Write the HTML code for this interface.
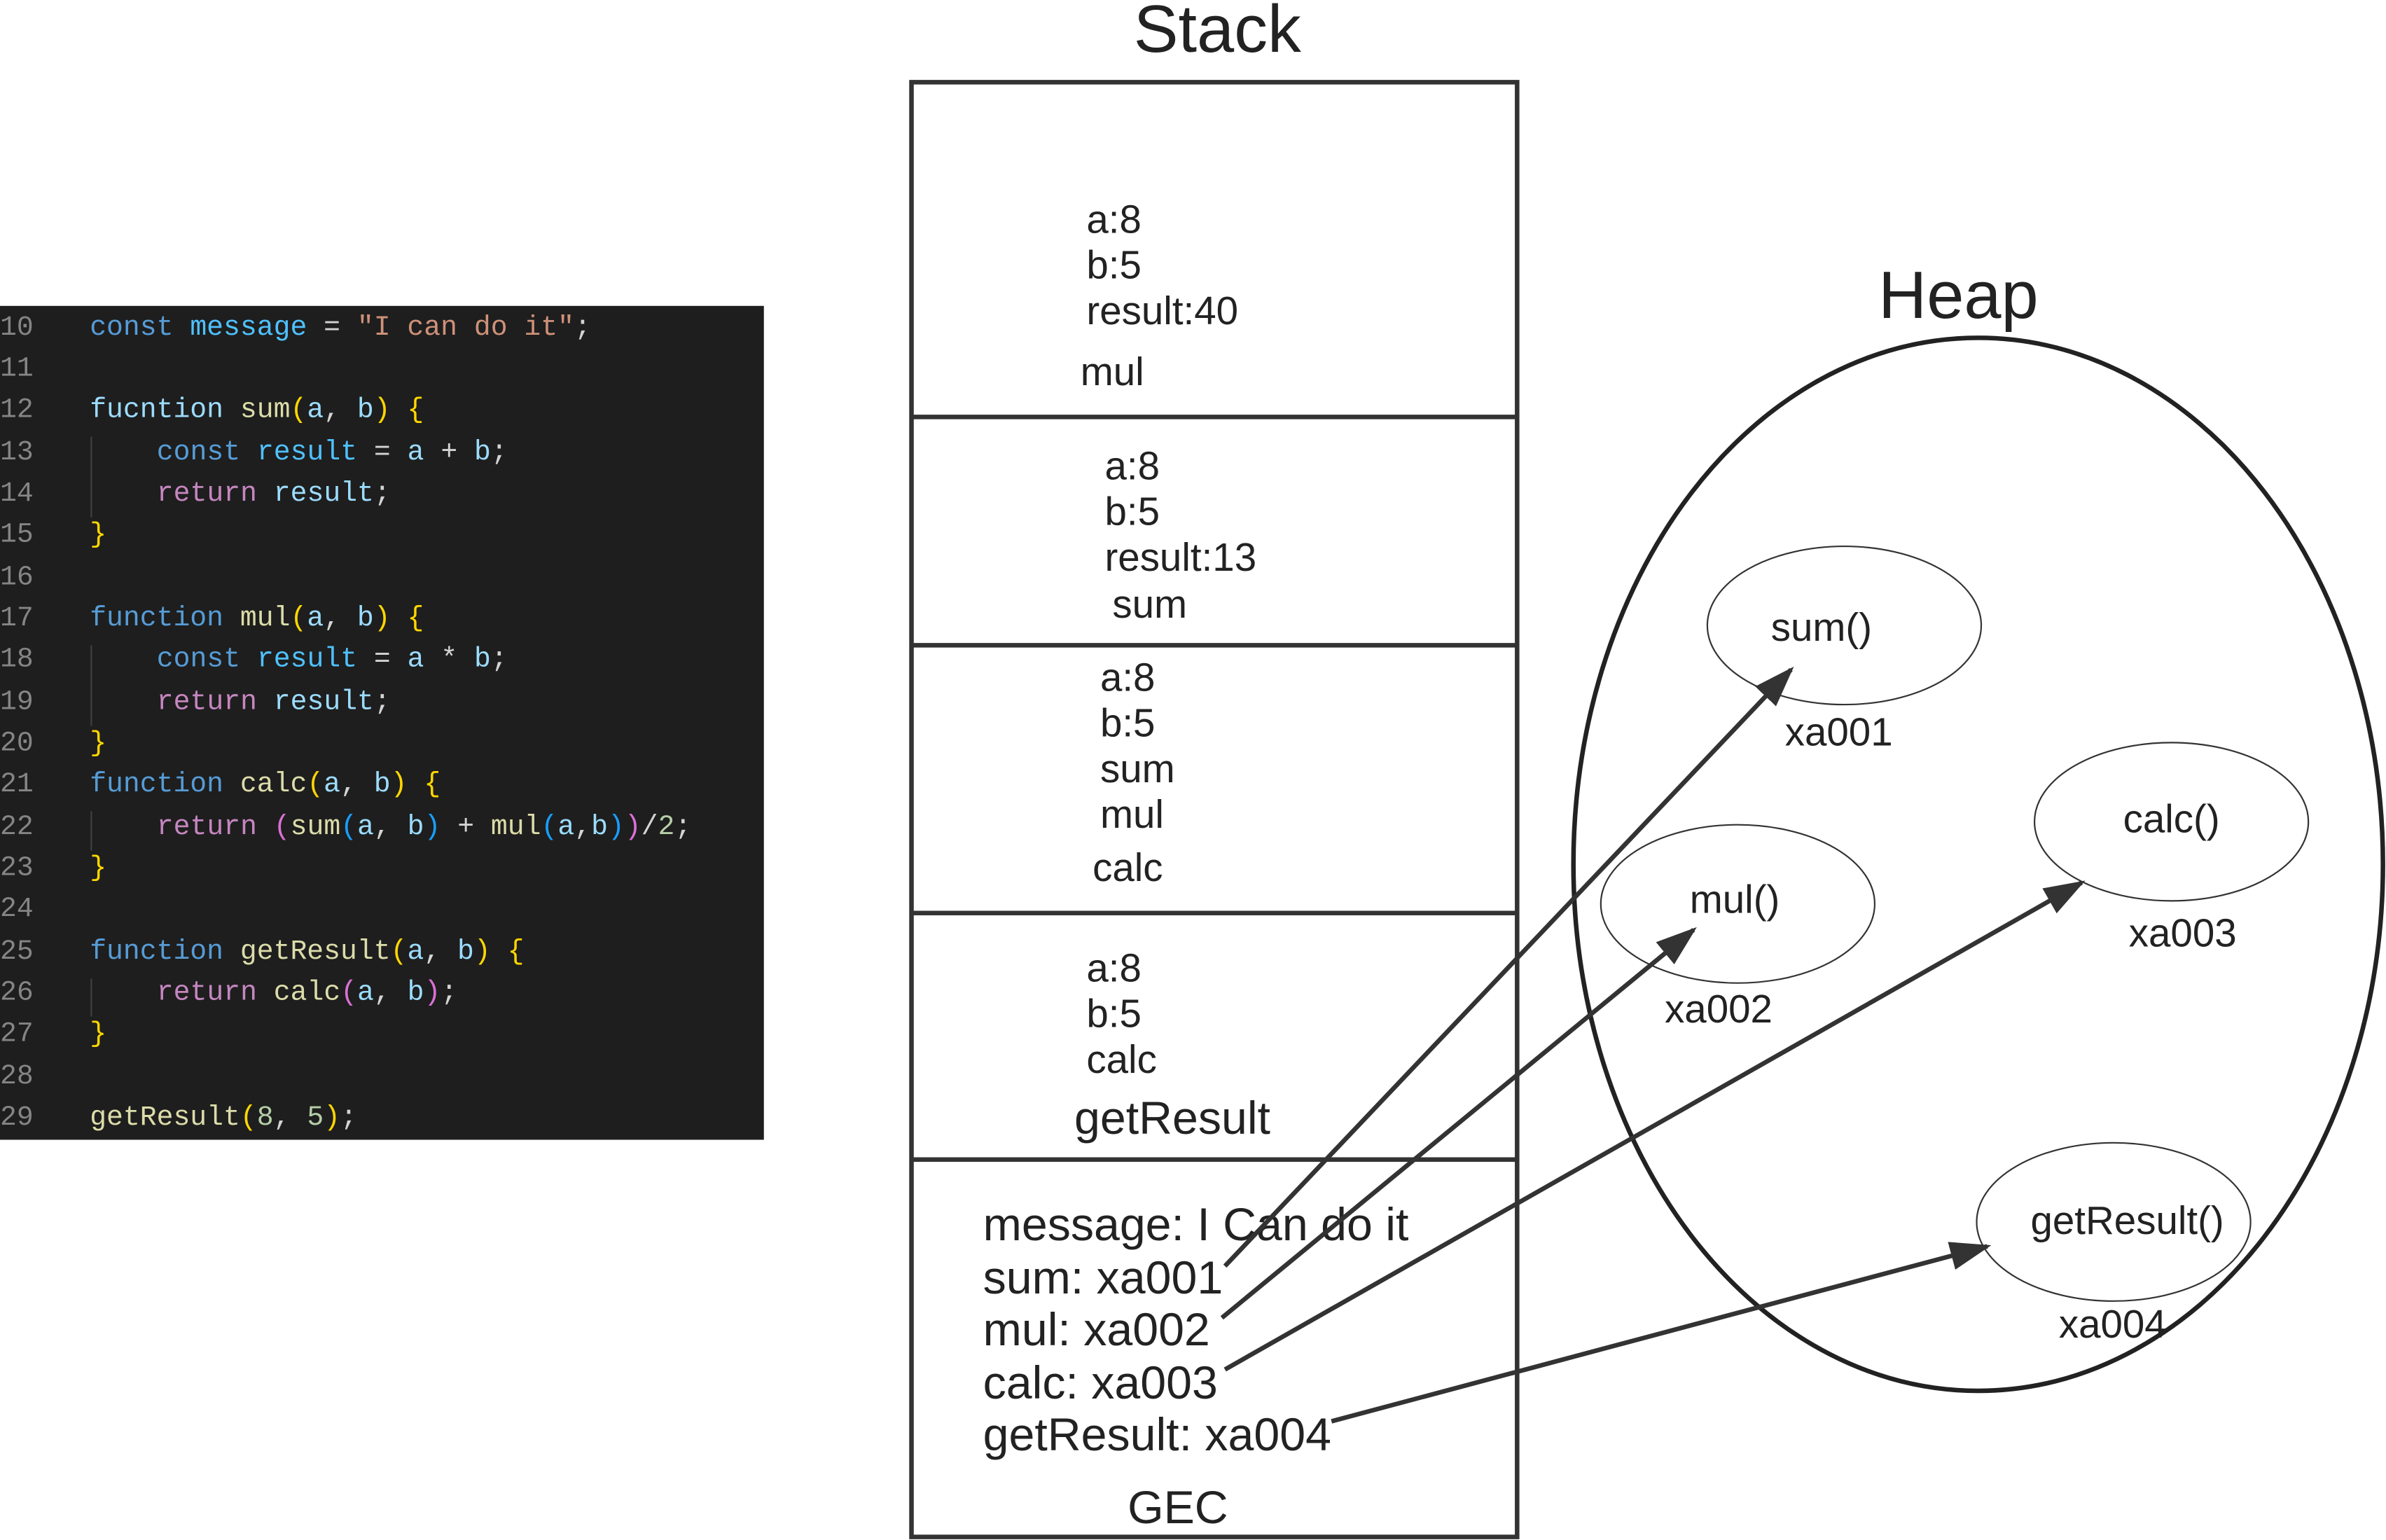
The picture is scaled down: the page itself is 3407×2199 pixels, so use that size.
<!DOCTYPE html>
<html><head><meta charset="utf-8"><style>
html,body{margin:0;padding:0;background:#fff;}
svg{display:block;}
.t{font-family:"Liberation Sans",sans-serif;fill:#222;}
.c{font-family:"Liberation Mono",monospace;font-size:18.3px;white-space:pre;}
</style></head><body>
<svg width="3407" height="2199" viewBox="0 0 1568 1012" xmlns="http://www.w3.org/2000/svg">
<defs>
<marker id="a" viewBox="0 0 10 10" refX="9" refY="5" markerWidth="9" markerHeight="9" orient="auto" markerUnits="strokeWidth"><path d="M0,1.5 L10,5 L0,8.5 z" fill="#333"/></marker></defs>
<rect x="0" y="201" width="502" height="548" fill="#1e1e1e"/>
<g class="c" xml:space="preserve">
<text x="0" y="220" fill="#858585">10</text>
<text x="0" y="247" fill="#858585">11</text>
<text x="0" y="274" fill="#858585">12</text>
<text x="0" y="302" fill="#858585">13</text>
<text x="0" y="329" fill="#858585">14</text>
<text x="0" y="356" fill="#858585">15</text>
<text x="0" y="384" fill="#858585">16</text>
<text x="0" y="411" fill="#858585">17</text>
<text x="0" y="438" fill="#858585">18</text>
<text x="0" y="466" fill="#858585">19</text>
<text x="0" y="493" fill="#858585">20</text>
<text x="0" y="520" fill="#858585">21</text>
<text x="0" y="548" fill="#858585">22</text>
<text x="0" y="575" fill="#858585">23</text>
<text x="0" y="602" fill="#858585">24</text>
<text x="0" y="630" fill="#858585">25</text>
<text x="0" y="657" fill="#858585">26</text>
<text x="0" y="684" fill="#858585">27</text>
<text x="0" y="712" fill="#858585">28</text>
<text x="0" y="739" fill="#858585">29</text>
<text x="59" y="220"><tspan fill="#569cd6">const</tspan> <tspan fill="#4fc1ff">message</tspan><tspan fill="#d4d4d4"> = </tspan><tspan fill="#ce9178">"I can do it"</tspan><tspan fill="#d4d4d4">;</tspan></text>
<text x="59" y="274"><tspan fill="#9cdcfe">fucntion</tspan> <tspan fill="#dcdcaa">sum</tspan><tspan fill="#ffd700">(</tspan><tspan fill="#9cdcfe">a</tspan><tspan fill="#d4d4d4">, </tspan><tspan fill="#9cdcfe">b</tspan><tspan fill="#ffd700">)</tspan> <tspan fill="#ffd700">{</tspan></text>
<text x="103" y="302"><tspan fill="#569cd6">const</tspan> <tspan fill="#4fc1ff">result</tspan><tspan fill="#d4d4d4"> = </tspan><tspan fill="#9cdcfe">a</tspan><tspan fill="#d4d4d4"> + </tspan><tspan fill="#9cdcfe">b</tspan><tspan fill="#d4d4d4">;</tspan></text>
<text x="103" y="329"><tspan fill="#c586c0">return</tspan> <tspan fill="#9cdcfe">result</tspan><tspan fill="#d4d4d4">;</tspan></text>
<text x="59" y="356" fill="#ffd700">}</text>
<text x="59" y="411"><tspan fill="#569cd6">function</tspan> <tspan fill="#dcdcaa">mul</tspan><tspan fill="#ffd700">(</tspan><tspan fill="#9cdcfe">a</tspan><tspan fill="#d4d4d4">, </tspan><tspan fill="#9cdcfe">b</tspan><tspan fill="#ffd700">)</tspan> <tspan fill="#ffd700">{</tspan></text>
<text x="103" y="438"><tspan fill="#569cd6">const</tspan> <tspan fill="#4fc1ff">result</tspan><tspan fill="#d4d4d4"> = </tspan><tspan fill="#9cdcfe">a</tspan><tspan fill="#d4d4d4"> * </tspan><tspan fill="#9cdcfe">b</tspan><tspan fill="#d4d4d4">;</tspan></text>
<text x="103" y="466"><tspan fill="#c586c0">return</tspan> <tspan fill="#9cdcfe">result</tspan><tspan fill="#d4d4d4">;</tspan></text>
<text x="59" y="493" fill="#ffd700">}</text>
<text x="59" y="520"><tspan fill="#569cd6">function</tspan> <tspan fill="#dcdcaa">calc</tspan><tspan fill="#ffd700">(</tspan><tspan fill="#9cdcfe">a</tspan><tspan fill="#d4d4d4">, </tspan><tspan fill="#9cdcfe">b</tspan><tspan fill="#ffd700">)</tspan> <tspan fill="#ffd700">{</tspan></text>
<text x="103" y="548"><tspan fill="#c586c0">return</tspan> <tspan fill="#da70d6">(</tspan><tspan fill="#dcdcaa">sum</tspan><tspan fill="#179fff">(</tspan><tspan fill="#9cdcfe">a</tspan><tspan fill="#d4d4d4">, </tspan><tspan fill="#9cdcfe">b</tspan><tspan fill="#179fff">)</tspan><tspan fill="#d4d4d4"> + </tspan><tspan fill="#dcdcaa">mul</tspan><tspan fill="#179fff">(</tspan><tspan fill="#9cdcfe">a</tspan><tspan fill="#d4d4d4">,</tspan><tspan fill="#9cdcfe">b</tspan><tspan fill="#179fff">)</tspan><tspan fill="#da70d6">)</tspan><tspan fill="#d4d4d4">/</tspan><tspan fill="#b5cea8">2</tspan><tspan fill="#d4d4d4">;</tspan></text>
<text x="59" y="575" fill="#ffd700">}</text>
<text x="59" y="630"><tspan fill="#569cd6">function</tspan> <tspan fill="#dcdcaa">getResult</tspan><tspan fill="#ffd700">(</tspan><tspan fill="#9cdcfe">a</tspan><tspan fill="#d4d4d4">, </tspan><tspan fill="#9cdcfe">b</tspan><tspan fill="#ffd700">)</tspan> <tspan fill="#ffd700">{</tspan></text>
<text x="103" y="657"><tspan fill="#c586c0">return</tspan> <tspan fill="#dcdcaa">calc</tspan><tspan fill="#da70d6">(</tspan><tspan fill="#9cdcfe">a</tspan><tspan fill="#d4d4d4">, </tspan><tspan fill="#9cdcfe">b</tspan><tspan fill="#da70d6">)</tspan><tspan fill="#d4d4d4">;</tspan></text>
<text x="59" y="684" fill="#ffd700">}</text>
<text x="59" y="739"><tspan fill="#dcdcaa">getResult</tspan><tspan fill="#ffd700">(</tspan><tspan fill="#b5cea8">8</tspan><tspan fill="#d4d4d4">, </tspan><tspan fill="#b5cea8">5</tspan><tspan fill="#ffd700">)</tspan><tspan fill="#d4d4d4">;</tspan></text>
</g>
<g stroke="#404040" stroke-width="1">
<line x1="60" y1="287" x2="60" y2="340"/><line x1="60" y1="424" x2="60" y2="477"/><line x1="60" y1="533" x2="60" y2="559"/><line x1="60" y1="643" x2="60" y2="668"/>
</g>
<text class="t" x="800" y="34" font-size="44" text-anchor="middle">Stack</text>
<rect x="599" y="54" width="398" height="956" fill="none" stroke="#333" stroke-width="3"/>
<g stroke="#333" stroke-width="3"><line x1="599" y1="274" x2="997" y2="274"/><line x1="599" y1="424" x2="997" y2="424"/><line x1="599" y1="600" x2="997" y2="600"/><line x1="599" y1="762" x2="997" y2="762"/></g>
<g class="t" font-size="26">
<text x="714" y="153">a:8</text><text x="714" y="183">b:5</text><text x="714" y="213">result:40</text><text x="710" y="253">mul</text>
<text x="726" y="315">a:8</text><text x="726" y="345">b:5</text><text x="726" y="375">result:13</text><text x="731" y="406">sum</text>
<text x="723" y="454">a:8</text><text x="723" y="484">b:5</text><text x="723" y="514">sum</text><text x="723" y="544">mul</text><text x="718" y="579">calc</text>
<text x="714" y="645">a:8</text><text x="714" y="675">b:5</text><text x="714" y="705">calc</text>
</g>
<g class="t" font-size="30.5">
<text x="706" y="745">getResult</text>
<text x="646" y="815">message: I Can do it</text>
<text x="646" y="850">sum: xa001</text>
<text x="646" y="884">mul: xa002</text>
<text x="646" y="919">calc: xa003</text>
<text x="646" y="953">getResult: xa004</text>
<text x="741" y="1001">GEC</text>
</g>
<text class="t" x="1287" y="209" font-size="44" text-anchor="middle">Heap</text>
<ellipse cx="1300" cy="568" rx="266" ry="346" fill="none" stroke="#222" stroke-width="3"/>
<g fill="none" stroke="#333" stroke-width="1">
<ellipse cx="1212" cy="411" rx="90" ry="52"/>
<ellipse cx="1142" cy="594" rx="90" ry="52"/>
<ellipse cx="1427" cy="540" rx="90" ry="52"/>
<ellipse cx="1389" cy="803" rx="90" ry="52"/>
</g>
<g class="t" font-size="26">
<text x="1197" y="421" text-anchor="middle">sum()</text>
<text x="1140" y="600" text-anchor="middle">mul()</text>
<text x="1427" y="547" text-anchor="middle">calc()</text>
<text x="1398" y="811" text-anchor="middle">getResult()</text>
<text x="1173" y="490">xa001</text>
<text x="1094" y="672">xa002</text>
<text x="1399" y="622">xa003</text>
<text x="1353" y="879">xa004</text>
</g>
<g stroke="#333" stroke-width="3" fill="none" marker-end="url(#a)">
<line x1="805" y1="832" x2="1177" y2="440"/>
<line x1="803" y1="866" x2="1113" y2="611"/>
<line x1="805" y1="900" x2="1368" y2="580"/>
<line x1="875" y1="934" x2="1306" y2="819"/>
</g>
</svg>
</body></html>
